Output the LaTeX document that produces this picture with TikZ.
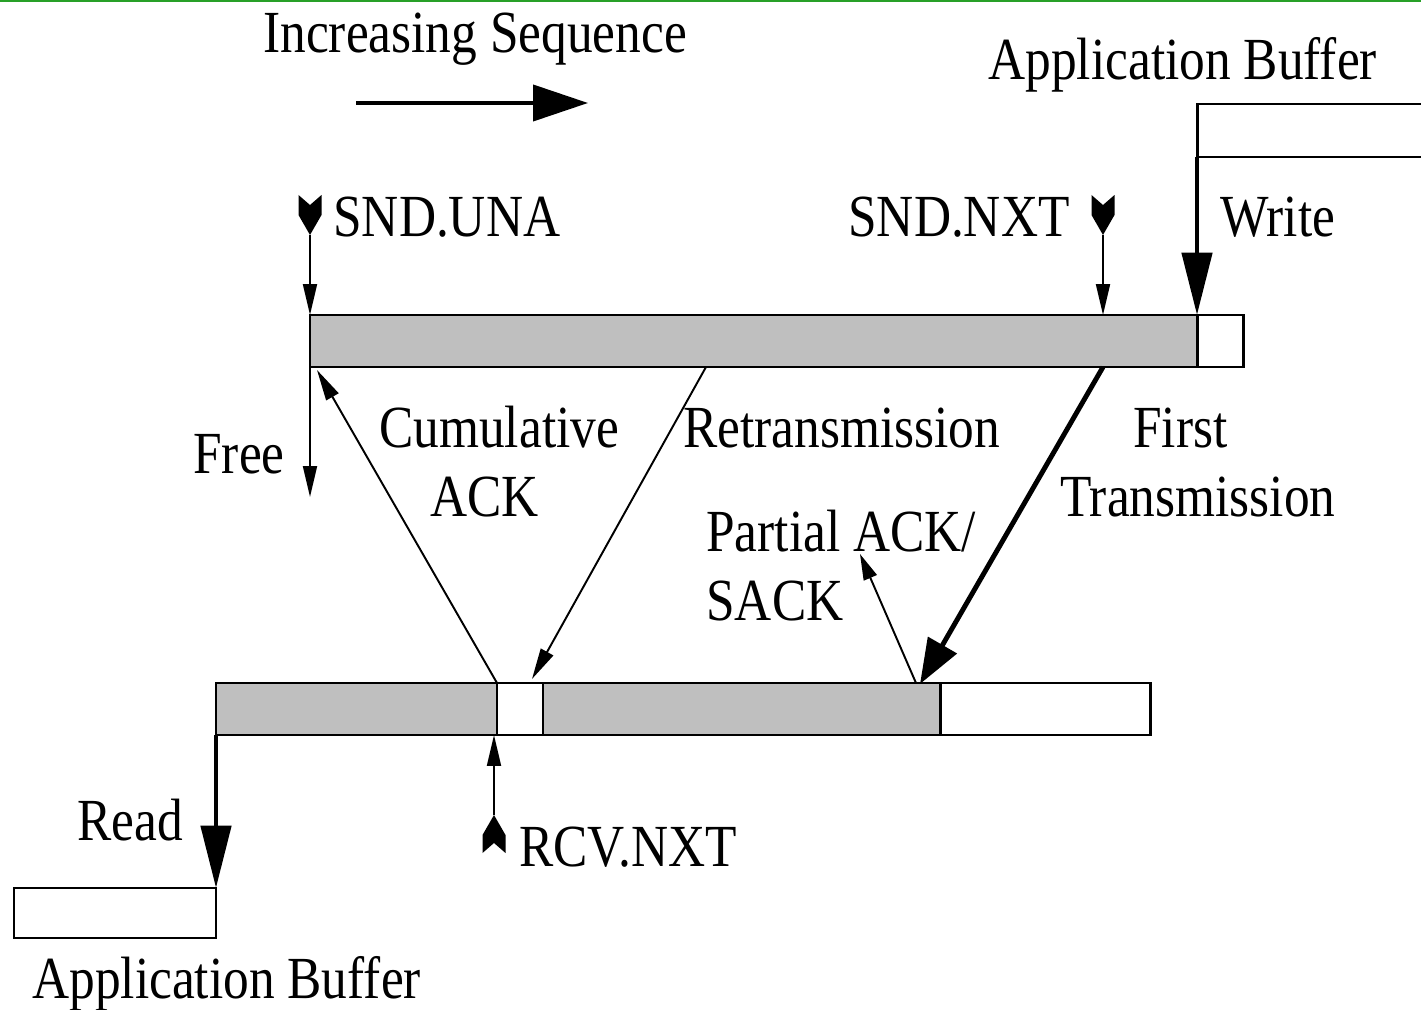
\documentclass[tikz,border=0pt]{standalone}
\usepackage{fontspec}
\setmainfont{Liberation Serif}[FakeStretch=0.86]
\usetikzlibrary{arrows.meta}
\definecolor{bufgray}{RGB}{191,191,191}
\definecolor{topgreen}{RGB}{40,160,40}
\tikzset{
  lbl/.style={anchor=base west, inner sep=0pt, font=\fontsize{34}{36}\selectfont},
  buf/.style={draw=black, line width=1.7pt},
  thinarrow/.style={line width=1.1pt, -{Triangle[length=0.62cm,width=0.28cm]}},
  thickarrow/.style={line width=2.8pt, -{Triangle[length=1.25cm,width=0.6cm]}},
}
\newcommand\downmark[1]{\fill (#1) -- ++(-11.5,-20) -- ++(0,-20) -- ++(11.5,10) -- ++(11.5,-10) -- ++(0,20) -- cycle;}
\newcommand\upmark[1]{\fill (#1) -- ++(-11.5,20) -- ++(0,18) -- ++(11.5,-10) -- ++(11.5,10) -- ++(0,-18) -- cycle;}
\begin{document}
\begin{tikzpicture}[x=0.02cm,y=-0.02cm]
\useasboundingbox (0,0) rectangle (1421,1010);
\draw[topgreen, line width=1.5pt] (0,1) -- (1421,1);

% title
\node[lbl] (title) at (263,53) {Increasing Sequence};
\coordinate (seqA) at (356,103);
\coordinate (seqB) at (588,103);
\draw[line width=2.3pt, -{Triangle[length=1.1cm,width=0.72cm]}] (seqA) -- (seqB);

% top application buffer
\node[lbl] (appTop) at (988,80) {Application Buffer};
\draw[buf] (1421,104) -- (1197,104) -- (1197,157) -- (1421,157);
\coordinate (appTopOut) at (1197,157);

% sender buffer
\draw[buf, fill=bufgray] (310,315) rectangle (1197,367);
\draw[buf, fill=white] (1197,315) rectangle (1243,367);
\coordinate (sWrite) at (1197,315);
\draw[thickarrow] (appTopOut) -- (sWrite);
\node[lbl] (write) at (1220,237) {Write};

% SND.UNA
\coordinate (una) at (310,235);
\coordinate (unaB) at (310,315);
\downmark{una}
\draw[thinarrow] (una) -- (unaB);
\node[lbl] (unaL) at (333,237) {SND.UNA};

% SND.NXT
\coordinate (nxt) at (1103,235);
\coordinate (nxtB) at (1103,315);
\downmark{nxt}
\draw[thinarrow] (nxt) -- (nxtB);
\node[lbl] (nxtL) at (848,237) {SND.NXT};

% Free
\coordinate (freeA) at (310,367);
\coordinate (freeB) at (310,497);
\draw[thinarrow] (freeA) -- (freeB);
\node[lbl] (free) at (193,473) {Free};

% receiver buffer
\draw[buf, fill=bufgray] (216,683) rectangle (497,735);
\draw[buf, fill=white] (497,683) rectangle (543,735);
\draw[buf, fill=bufgray] (543,683) rectangle (940,735);
\draw[buf, fill=white] (940,683) rectangle (1150,735);

% Cumulative ACK
\coordinate (cumA) at (497,683);
\coordinate (cumB) at (317,370);
\draw[thinarrow] (cumA) -- (cumB);
\node[lbl] (cum1) at (379,447) {Cumulative};
\node[lbl] (cum2) at (430,516) {ACK};

% Retransmission
\coordinate (retA) at (706,367);
\coordinate (retB) at (532,679);
\draw[thinarrow] (retA) -- (retB);
\node[lbl] (ret) at (683,447) {Retransmission};

% First transmission
\coordinate (ftA) at (1103,367);
\coordinate (ftB) at (920,684);
\draw[line width=2.8pt, -{Triangle[length=0.9cm,width=0.65cm]}] (ftA) -- (ftB);
\node[lbl] (ft1) at (1133,447) {First};
\node[lbl] (ft2) at (1060,516) {Transmission};

% Partial ACK / SACK
\coordinate (paA) at (916,683);
\coordinate (paB) at (860,554);
\draw[line width=1.1pt, -{Triangle[length=0.52cm,width=0.28cm]}] (paA) -- (paB);
\node[lbl] (pa1) at (706,551) {Partial ACK/};
\node[lbl] (pa2) at (706,620) {SACK};

% RCV.NXT
\coordinate (rcv) at (494,815);
\coordinate (rcvB) at (494,735);
\upmark{rcv}
\draw[thinarrow] (rcv) -- (rcvB);
\node[lbl] (rcvL) at (519,866) {RCV.NXT};

% Read
\coordinate (readA) at (216,735);
\coordinate (readB) at (216,888);
\draw[thickarrow] (readA) -- (readB);
\node[lbl] (read) at (77,840) {Read};

% bottom application buffer
\draw[buf, fill=white] (14,888) rectangle (216,938);
\node[lbl] (appBot) at (32,998) {Application Buffer};
\end{tikzpicture}
\end{document}
